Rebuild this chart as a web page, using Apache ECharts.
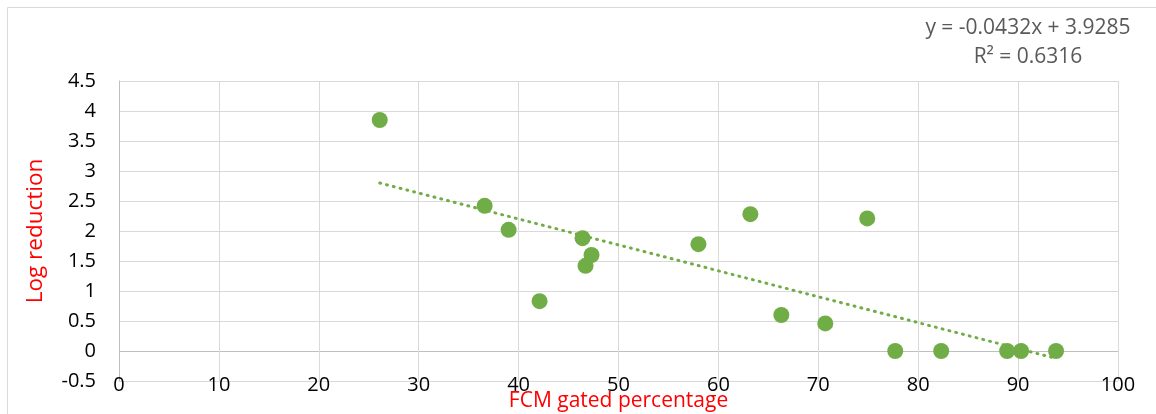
<!DOCTYPE html>
<html><head><meta charset="utf-8">
<script src="https://cdn.jsdelivr.net/npm/echarts@6/dist/echarts.min.js"></script>
<style>html,body{margin:0;padding:0;background:#fff}#c{width:1156px;height:414px}</style>
</head><body><div id="c"></div>
<script>
const xValues = [26.1, 36.6, 39.0, 42.1, 46.4, 46.7, 47.3, 58.0, 63.2, 66.3, 70.7, 74.9, 77.7, 82.3, 88.9, 90.3, 93.8];
const yValues = [3.85, 2.42, 2.02, 0.83, 1.88, 1.42, 1.60, 1.78, 2.28, 0.60, 0.46, 2.21, 0, 0, 0, 0, 0];
const trendCoef = [-0.0432, 3.9285];
const r2 = 0.6316;
const xTitle = 'FCM gated percentage';
const yTitle = 'Log reduction';

const pts = xValues.map((x, i) => [x, yValues[i]]);
const xmin = Math.min(...xValues), xmax = Math.max(...xValues);
const trend = [[xmin, trendCoef[0]*xmin + trendCoef[1]], [xmax, trendCoef[0]*xmax + trendCoef[1]]];
const FONT = 'Open Sans';
const gridColors = [];
for (let i = 0; i < 11; i++) gridColors.push(i === 1 ? '#bfbfbf' : '#d9d9d9');

const chart = echarts.init(document.getElementById('c'));
chart.setOption({
  animation: false,
  textStyle: {fontFamily: FONT},
  graphic: [
    {type: 'rect', shape: {x: 7.5, y: 7.5, width: 1200, height: 500}, style: {fill: 'none', stroke: '#d9d9d9', lineWidth: 1}},
    {type: 'text', x: 1028, y: 28, style: {text: 'y = ' + trendCoef[0] + 'x + ' + trendCoef[1], fill: '#595959', font: '21px ' + FONT, align: 'center', verticalAlign: 'middle'}},
    {type: 'text', x: 1028, y: 57, style: {text: 'R² = ' + r2, fill: '#595959', font: '21px ' + FONT, align: 'center', verticalAlign: 'middle'}}
  ],
  grid: {left: 119, right: 38, top: 81, bottom: 33, outerBoundsMode: 'none', containLabel: false},
  xAxis: {
    type: 'value', min: 0, max: 100, interval: 10,
    name: xTitle, nameLocation: 'middle', nameGap: 10, nameMoveOverlap: false,
    nameTextStyle: {color: '#ff0000', fontSize: 21, fontFamily: FONT, verticalAlign: 'top'},
    axisLine: {show: false}, axisTick: {show: false},
    axisLabel: {color: '#000', fontSize: 20, margin: -6, fontFamily: FONT},
    splitLine: {show: true, lineStyle: {color: '#d9d9d9', width: 1}}
  },
  yAxis: {
    type: 'value', min: -0.5, max: 4.5, interval: 0.5,
    name: yTitle, nameLocation: 'middle', nameGap: 72, nameRotate: 90,
    nameTextStyle: {color: '#ff0000', fontSize: 22.5, fontFamily: FONT},
    axisLine: {show: true, onZero: false, lineStyle: {color: '#bfbfbf'}}, axisTick: {show: false},
    axisLabel: {color: '#000', fontSize: 20, margin: 23, fontFamily: FONT},
    splitLine: {show: true, lineStyle: {color: gridColors, width: 1}}
  },
  series: [
    {type: 'line', data: trend, symbol: 'none', silent: true, z: 3,
     lineStyle: {color: '#70ad47', width: 3, type: [1, 6], cap: 'round'}},
    {type: 'scatter', data: pts, symbolSize: 16, z: 4, itemStyle: {color: '#70ad47', opacity: 1}}
  ]
});
</script></body></html>
